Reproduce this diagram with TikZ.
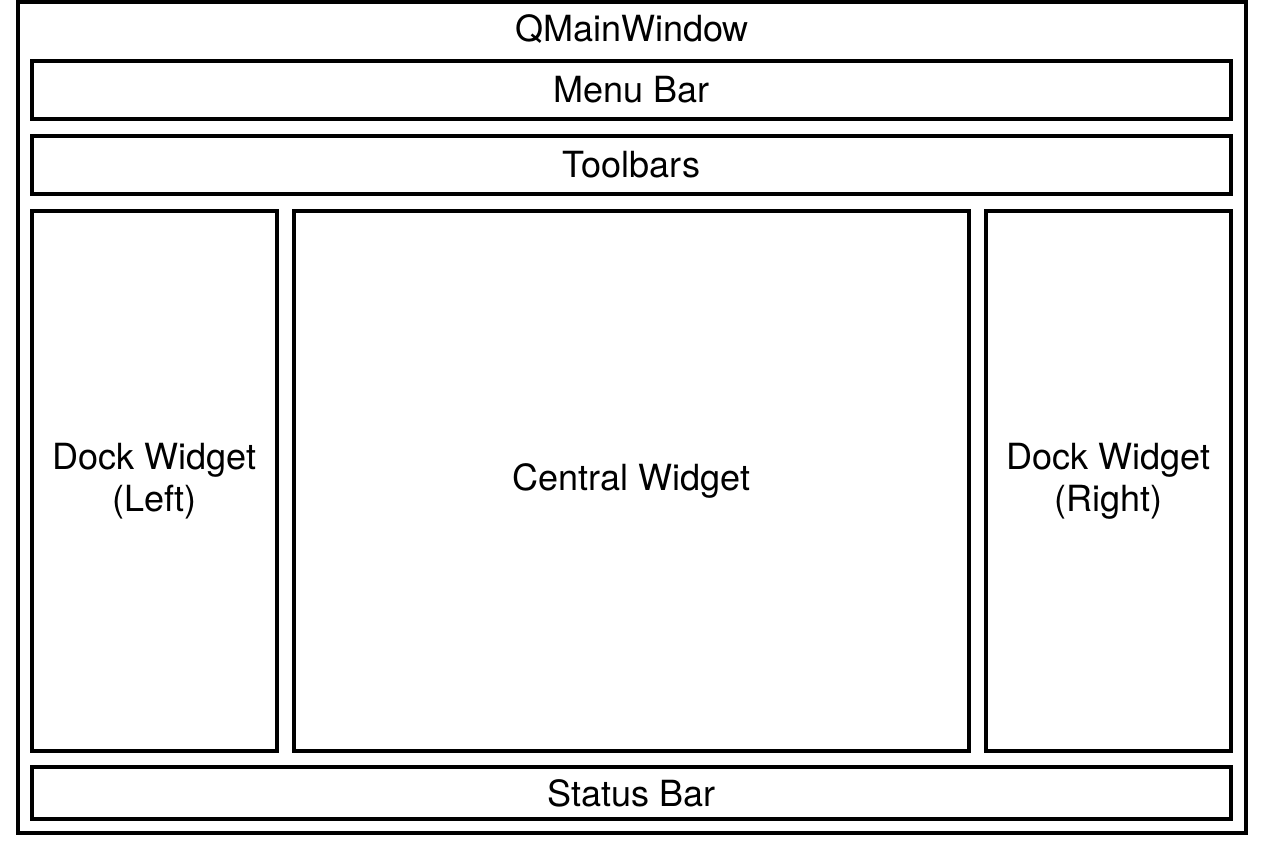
\documentclass[tikz,border=0pt]{standalone}
\usepackage{fontspec}
\setmainfont{TeX Gyre Heros}
\begin{document}
\begin{tikzpicture}[
		panel/.style={
			draw,
			line width=1.8pt,
			rectangle,
			inner sep=0pt,
			align=center,
			font=\fontsize{20.5}{24}\selectfont
		}
		]
		\useasboundingbox (0,0) rectangle (25.28,16.96);
		\node[panel,minimum width=24.56cm,minimum height=16.62cm] (window) at (12.64,8.61) {};
		\node[font=\fontsize{20.5}{24}\selectfont] (title) at (12.64,16.38) {QMainWindow};
		\node[panel,minimum width=23.98cm,minimum height=1.16cm] (menu) at (12.63,15.16) {Menu Bar};
		\node[panel,minimum width=23.98cm,minimum height=1.16cm] (tools) at (12.63,13.66) {Toolbars};
		\node[panel,minimum width=4.9cm,minimum height=10.8cm] (dockl) at (3.09,7.34) {Dock Widget\\(Left)};
		\node[panel,minimum width=13.5cm,minimum height=10.8cm] (central) at (12.63,7.34) {Central Widget};
		\node[panel,minimum width=4.9cm,minimum height=10.8cm] (dockr) at (22.17,7.34) {Dock Widget\\(Right)};
		\node[panel,minimum width=23.98cm,minimum height=1.04cm] (status) at (12.63,1.1) {Status Bar};
		\end{tikzpicture}
\end{document}
